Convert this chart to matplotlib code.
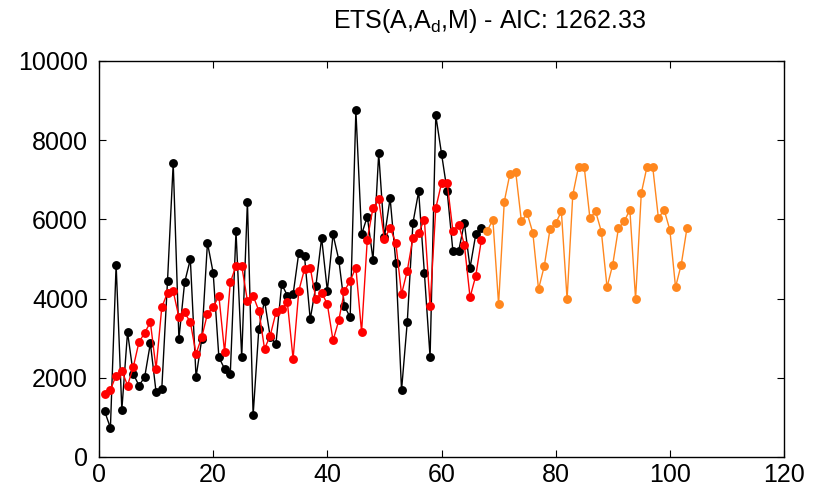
import matplotlib
matplotlib.use("Agg")
import matplotlib.pyplot as plt

# Observed data (black)
actual_x = list(range(1, 68))
actual_y = [1149, 737, 4861, 1192, 3152, 2100, 1805, 2016, 2874, 1636,
            1721, 4440, 7419, 2984, 4407, 4995, 2016, 2975, 5409, 4651,
            2520, 2227, 2101, 5702, 2520, 6452, 1056, 3237, 3952, 3026,
            2858, 4364, 4078, 4104, 5156, 5071, 3480, 4323, 5535, 4196,
            5619, 4987, 3818, 3523, 8750, 5619, 6073, 4987, 7672, 5551,
            6536, 4904, 1687, 3404, 5914, 6705, 4651, 2520, 8624, 7664,
            6705, 5197, 5197, 5914, 4777, 5619, 5787]

# Fitted values (red)
fitted_x = list(range(1, 68))
fitted_y = [1596, 1697, 2058, 2184, 1805, 2268, 2899, 3136, 3404, 2227,
            3783, 4146, 4187, 3530, 3649, 3404, 2606, 3026, 3615, 3783,
            4070, 2647, 4407, 4828, 4828, 3944, 4070, 3692, 2732, 3068,
            3649, 3742, 3905, 2480, 4196, 4743, 4785, 3985, 4154, 3859,
            2942, 3447, 4196, 4449, 4785, 3152, 5492, 6293, 6503, 5500,
            5788, 5409, 4112, 4702, 5535, 5661, 5997, 3818, 6284, 6914,
            6914, 5703, 5871, 5366, 4032, 4575, 5492]

# Forecast (orange)
fc_x = list(range(68, 104))
fc_y = [5703, 5997, 3859, 6452, 7159, 7201, 5947, 6157, 5661, 4238,
        4819, 5745, 5905, 6200, 3985, 6621, 7328, 7328, 6031, 6200,
        5694, 4288, 4861, 5778, 5947, 6242, 3985, 6662, 7328, 7328,
        6031, 6242, 5737, 4288, 4861, 5778]

x_ticks = [0, 20, 40, 60, 80, 100, 120]
y_ticks = [0, 2000, 4000, 6000, 8000, 10000]
title = r'ETS(A,A$_\mathregular{d}$,M) - AIC: 1262.33'

plt.rcParams['font.family'] = ['Liberation Sans', 'DejaVu Sans']

fig = plt.figure(figsize=(8.17, 4.92), dpi=100)
ax = fig.add_axes([99/817, 1 - 457/492, (784 - 99)/817, (457 - 61)/492])

ax.plot(actual_x, actual_y, color='black', lw=1.0, marker='o', ms=6.4,
        markeredgewidth=0)
ax.plot(fitted_x, fitted_y, color='#FF0000', lw=1.0, marker='o', ms=6.4,
        markeredgewidth=0)
ax.plot(fc_x, fc_y, color='#FF871E', lw=1.0, marker='o', ms=6.4,
        markeredgewidth=0)

ax.set_xlim(0, 120)
ax.set_ylim(0, 10000)
ax.set_xticks(x_ticks)
ax.set_yticks(y_ticks)
ax.set_xticklabels([str(t) for t in x_ticks])
ax.set_yticklabels([str(t) for t in y_ticks])
ax.tick_params(direction='in', length=5, width=0.8, top=True, right=True,
               labelsize=18)
ax.tick_params(axis='x', pad=4)
ax.tick_params(axis='y', pad=8)
for s in ax.spines.values():
    s.set_linewidth(1.0)

fig.text(490/817, 1 - 28/492, title, ha='center', va='baseline', fontsize=18)

fig.savefig('out.png', dpi=100)
